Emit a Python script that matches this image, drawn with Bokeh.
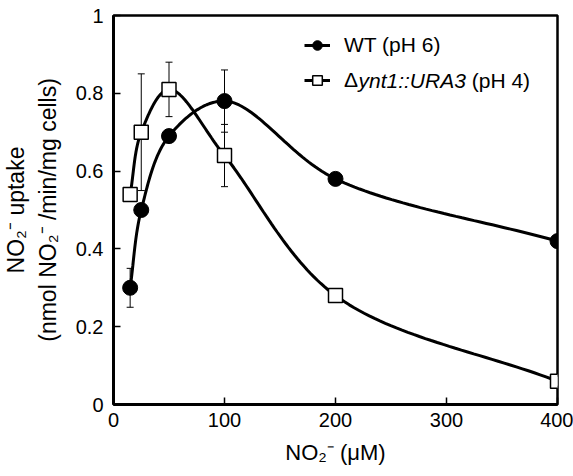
import numpy as np
from bokeh.plotting import figure
from bokeh.models import (Range1d, Whisker, ColumnDataSource, Legend, LegendItem,
                          FixedTicker, TeeHead, Label)
from bokeh.embed import file_html
from bokeh.resources import INLINE

# ---- data ----
x_wt = [15, 25, 50, 100, 200, 400]
y_wt = [0.30, 0.50, 0.69, 0.78, 0.58, 0.42]
err_wt = [0.05, 0.0, 0.0, 0.08, 0.0, 0.0]

x_mut = [15, 25, 50, 100, 200, 400]
y_mut = [0.54, 0.70, 0.81, 0.64, 0.28, 0.06]
err_mut = [0.0, 0.15, 0.07, 0.08, 0.0, 0.0]

x_ticks = [0, 100, 200, 300, 400]
y_ticks = [0, 0.2, 0.4, 0.6, 0.8, 1.0]
y_tick_labels = {0: "0", 0.2: "0.2", 0.4: "0.4", 0.6: "0.6", 0.8: "0.8", 1.0: "1"}

label_wt = "WT (pH 6)"
label_mut_delta = "\u0394"
label_mut_italic = "ynt1::URA3"
label_mut_rest = "(pH 4)"

# ---- layout ----
W, H = 573, 476
BL, BR, BT, BB = 111, 16, 15, 72
FW, FH = W - BL - BR, H - BT - BB
X0, X1, Y0, Y1 = 0, 400, 0, 1


def catmull_rom(xs, ys, n=40):
    """Centripetal Catmull-Rom smoothing drawn in screen-proportional space."""
    sx = FW / (X1 - X0)
    sy = FH / (Y1 - Y0)
    P = np.column_stack([np.asarray(xs, float) * sx, np.asarray(ys, float) * sy])
    P = np.vstack([2 * P[0] - P[1], P, 2 * P[-1] - P[-2]])
    out = []
    for i in range(1, len(P) - 2):
        p0, p1, p2, p3 = P[i - 1], P[i], P[i + 1], P[i + 2]
        t0 = 0.0
        t1 = t0 + np.linalg.norm(p1 - p0) ** 0.5
        t2 = t1 + np.linalg.norm(p2 - p1) ** 0.5
        t3 = t2 + np.linalg.norm(p3 - p2) ** 0.5
        t = np.linspace(t1, t2, n)[:, None]
        a1 = (t1 - t) / (t1 - t0) * p0 + (t - t0) / (t1 - t0) * p1
        a2 = (t2 - t) / (t2 - t1) * p1 + (t - t1) / (t2 - t1) * p2
        a3 = (t3 - t) / (t3 - t2) * p2 + (t - t2) / (t3 - t2) * p3
        b1 = (t2 - t) / (t2 - t0) * a1 + (t - t0) / (t2 - t0) * a2
        b2 = (t3 - t) / (t3 - t1) * a2 + (t - t1) / (t3 - t1) * a3
        c = (t2 - t) / (t2 - t1) * b1 + (t - t1) / (t2 - t1) * b2
        out.append(c if i == 1 else c[1:])
    C = np.vstack(out)
    return C[:, 0] / sx, C[:, 1] / sy


p = figure(width=W, height=H, output_backend="svg", toolbar_location=None,
           x_range=Range1d(X0, X1), y_range=Range1d(Y0, Y1))
p.min_border_left = BL
p.min_border_right = BR
p.min_border_top = BT
p.min_border_bottom = BB
p.background_fill_color = "white"
p.border_fill_color = "white"
p.outline_line_color = "black"
p.outline_line_width = 2.5
p.xgrid.visible = False
p.ygrid.visible = False

FONT = "Liberation Sans"
for ax in (p.xaxis[0], p.yaxis[0]):
    ax.axis_line_width = 3
    ax.axis_line_color = "black"
    ax.major_tick_in = 7
    ax.major_tick_out = 0
    ax.major_tick_line_width = 1.5
    ax.minor_tick_line_color = None
    ax.major_label_text_font = FONT
    ax.major_label_text_font_size = "20px"
    ax.major_label_text_color = "black"
    ax.axis_label_text_font = FONT
    ax.axis_label_text_font_style = "normal"
    ax.axis_label_text_color = "black"

p.xaxis.ticker = FixedTicker(ticks=x_ticks)
p.yaxis.ticker = FixedTicker(ticks=y_ticks)
p.yaxis.major_label_overrides = y_tick_labels
p.xaxis.major_label_standoff = 8
p.yaxis.major_label_standoff = 10
p.xaxis.axis_label = "NO\u2082\u207b (\u03bcM)"
p.xaxis.axis_label_text_font_size = "22px"
p.xaxis.axis_label_standoff = 10
p.yaxis.axis_label = "NO\u2082\u207b uptake\n(nmol NO\u2082\u207b /min/mg cells)"
p.yaxis.axis_label_text_font_size = "23px"
p.yaxis.axis_label_standoff = 12

# curves
sx_, sy_ = catmull_rom(x_wt, y_wt)
wt_line = p.line(sx_, sy_, line_color="black", line_width=3)
mx_, my_ = catmull_rom(x_mut, y_mut)
mut_line = p.line(mx_, my_, line_color="black", line_width=3)


# error bars
def add_err(xs, ys, es):
    xs_ = [x for x, e in zip(xs, es) if e > 0]
    lo = [y - e for y, e in zip(ys, es) if e > 0]
    hi = [y + e for y, e in zip(ys, es) if e > 0]
    src = ColumnDataSource(dict(base=xs_, lower=lo, upper=hi))
    w = Whisker(source=src, base="base", lower="lower", upper="upper",
                line_color="black", line_width=1,
                upper_head=TeeHead(size=7, line_width=1, line_color="black"),
                lower_head=TeeHead(size=7, line_width=1, line_color="black"))
    p.add_layout(w)


add_err(x_wt, y_wt, err_wt)
add_err(x_mut, y_mut, err_mut)

# smaller copies of the markers for the key (hidden beneath the plotted markers)
lg_wt_pt = p.scatter(x_wt, y_wt, marker="circle", size=10,
                     fill_color="black", line_color="black")
lg_mut_pt = p.scatter(x_mut, y_mut, marker="square", size=10,
                      fill_color="white", line_color="black", line_width=1.5)

p.scatter(x_wt, y_wt, marker="circle", size=15, fill_color="black", line_color="black")
p.scatter(x_mut, y_mut, marker="square", size=14, fill_color="white",
          line_color="black", line_width=1.5)

gw, gh, standoff, spacing = 26, 24, 14, 11
leg_x, leg_top = 191, 18
leg_h = 2 * gh + spacing
legend = Legend(items=[LegendItem(label=label_wt, renderers=[wt_line, lg_wt_pt]),
                       LegendItem(label=label_mut_delta, renderers=[mut_line, lg_mut_pt])],
                location=(leg_x, FH - leg_top - leg_h),
                glyph_width=gw, glyph_height=gh, label_standoff=standoff,
                spacing=spacing, padding=0, margin=0,
                border_line_color=None, background_fill_alpha=0,
                label_text_font=FONT, label_text_font_size="21px",
                label_text_color="black", label_height=gh)
p.add_layout(legend, "center")

fs = 21
row2_y = FH - (leg_top + gh + spacing + gh / 2)
text_x0 = leg_x + gw + standoff
x_it = text_x0 + 0.667 * fs
p.add_layout(Label(x=x_it, y=row2_y, x_units="screen", y_units="screen",
                   text=label_mut_italic, text_font=FONT, text_font_size="21px",
                   text_font_style="italic", text_baseline="middle",
                   text_color="black"))
x_rest = x_it + 5.113 * fs + 0.278 * fs
p.add_layout(Label(x=x_rest, y=row2_y, x_units="screen", y_units="screen",
                   text=label_mut_rest, text_font=FONT, text_font_size="21px",
                   text_baseline="middle", text_color="black"))

open("out.html", "w").write(file_html(p, INLINE))
